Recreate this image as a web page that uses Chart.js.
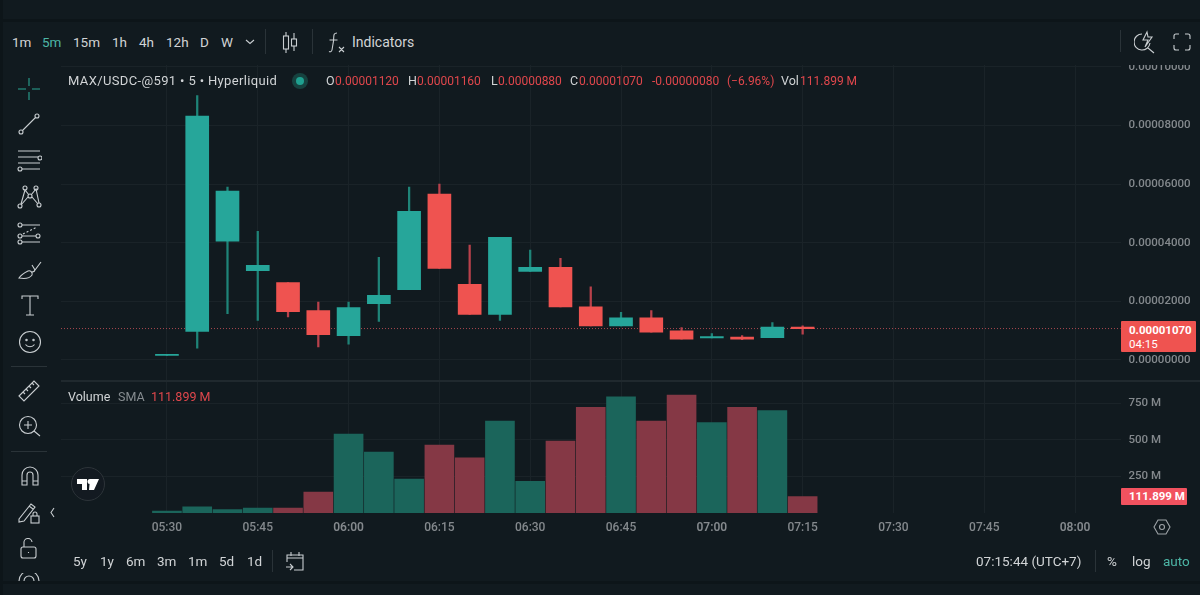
<!DOCTYPE html>
<html>
<head>
<meta charset="utf-8">
<script src="https://cdn.jsdelivr.net/npm/chart.js@4"></script>
<style>
  html, body { margin: 0; padding: 0; background: #111a1f; }
  body { width: 1200px; height: 595px; overflow: hidden; position: relative; font-family: "Roboto", sans-serif; }
  #gapTop { position: absolute; left: 0; top: 19px; width: 1200px; height: 3px; background: #0d1519; }
  #gapLeft { position: absolute; left: 0; top: 0; width: 3px; height: 595px; background: #0d1519; }
  #gapBottom { position: absolute; left: 0; top: 581px; width: 1200px; height: 3px; background: #0d1519; }
  #chartBox { position: absolute; left: 0; top: 0; width: 1200px; height: 595px; }
  #topBar { position: absolute; left: 3px; top: 22px; width: 1197px; height: 43px; background: #111a1f; }
  .t { position: absolute; white-space: nowrap; color: #d1d4d6; font-size: 13.5px; line-height: 16px; }
  .b { top: 34px; }
  .r { top: 73px; color: #e0474c; font-size: 12px; }
  .l { top: 73px; font-size: 12.500px; }
  .f { top: 553px; font-size: 13.5px; }
  .sep { position: absolute; background: #2a3338; }
  .tag { position: absolute; background: #ef5350; color: #fff; border-radius: 1px; font-size: 11.5px; line-height: 14px; white-space: nowrap; }
  svg.i { position: absolute; fill: none; stroke: #c9ced1; stroke-width: 1.1; }
</style>
</head>
<body>
<div id="chartBox"><canvas id="myChart" width="1200" height="595"></canvas></div>
<div id="topBar"></div>
<div id="gapTop"></div>
<div id="gapLeft"></div>
<div id="gapBottom"></div>

<div class="t b" style="left:12px">1m</div>
<div class="t b" style="left:42px;color:#4db6a6">5m</div>
<div class="t b" style="left:73px">15m</div>
<div class="t b" style="left:112px">1h</div>
<div class="t b" style="left:139px">4h</div>
<div class="t b" style="left:166px">12h</div>
<div class="t b" style="left:200px">D</div>
<div class="t b" style="left:221px">W</div>
<svg class="i" style="left:245px;top:38px" width="10" height="8"><path d="M1 2l4 3.5L9 2"/></svg>
<div class="sep" style="left:265px;top:29px;width:1px;height:25px"></div>
<svg class="i" style="left:281px;top:31px" width="18" height="24"><path d="M5 1v4M5 18v4M13 2v6M13 15v5"/><rect x="2.5" y="5" width="5" height="13"/><rect x="10.5" y="8" width="5" height="7"/></svg>
<div class="sep" style="left:312px;top:29px;width:1px;height:25px"></div>
<svg class="i" style="left:327px;top:32px" width="20" height="24"><path d="M10 1C6 1 7 4 6.5 9L5 18c-.4 2-2 2-3 1.5M2.5 8h8M12 15l5 5M17 15l-5 5"/></svg>
<div class="t b" style="left:352px;font-size:14px">Indicators</div>
<div class="sep" style="left:1120px;top:30px;width:1px;height:22px"></div>
<svg class="i" style="left:1134px;top:30px" width="24" height="24"><path d="M8 4a8 8 0 1 0 8 9M14 18l6 5M13 2l-4 8h5l-3 7 7-10h-4z"/></svg>
<svg class="i" style="left:1173px;top:33px" width="18" height="18"><path d="M1 6V3q0-2 2-2h3M12 1h3q2 0 2 2v3M17 12v3q0 2-2 2h-3M6 17H3q-2 0-2-2v-3"/></svg>

<div class="t l" style="left:68px;font-size:13px;letter-spacing:.36px">MAX/USDC-@591 • 5 • Hyperliquid</div>
<svg style="position:absolute;left:291px;top:72px" width="18" height="18"><circle cx="9" cy="9" r="8" fill="#16423f"/><circle cx="9" cy="9" r="4" fill="#1fa08f"/></svg>
<div class="t l" style="left:326px">O</div><div class="t r" style="left:335px">0.00001120</div>
<div class="t l" style="left:408px">H</div><div class="t r" style="left:417px">0.00001160</div>
<div class="t l" style="left:491px">L</div><div class="t r" style="left:498px">0.00000880</div>
<div class="t l" style="left:570px">C</div><div class="t r" style="left:579px">0.00001070</div>
<div class="t r" style="left:652px">-0.00000080</div>
<div class="t r" style="left:727px">(−6.96%)</div>
<div class="t l" style="left:781px">Vol</div><div class="t r" style="left:800px">111.899 M</div>

<div class="t" style="left:68px;top:389px;font-size:12.5px">Volume</div>
<div class="t" style="left:118px;top:389px;font-size:12.5px;color:#868c90">SMA</div>
<div class="t" style="left:151px;top:389px;font-size:12.5px;color:#e0474c">111.899 M</div>

<div class="tag" style="left:1121px;top:321px;width:67px;height:31px;padding-left:8px"><b style="display:block;margin-top:2px">0.00001070</b>04:15</div>
<div class="tag" style="left:1121px;top:488px;width:58px;height:17px;padding-left:8px;line-height:17px;background:#f2525f"><b>111.899 M</b></div>

<!-- left tools -->
<svg class="i" style="left:16px;top:76px;stroke:#2aa593" width="26" height="26"><path d="M13 2v8M13 16v8M2 13h8M16 13h8"/></svg>
<svg class="i" style="left:17px;top:112px" width="24" height="24"><circle cx="4" cy="20" r="2"/><circle cx="20" cy="4" r="2"/><path d="M5.5 18.5l13-13"/></svg>
<svg class="i" style="left:16px;top:150px" width="26" height="22"><path d="M2 1h22M2 7h20M2 13h22M6 19h18"/><circle cx="24" cy="8" r="2"/><circle cx="4" cy="19" r="2"/></svg>
<svg class="i" style="left:17px;top:185px" width="26" height="26"><circle cx="8" cy="3" r="2"/><circle cx="19" cy="3" r="2"/><circle cx="3" cy="21" r="2"/><circle cx="22" cy="20" r="2"/><circle cx="13" cy="11" r="2"/><path d="M4 19L8 5l4 5M14 10l5-6 3 14M4 20l7-8M15 12l6 7"/></svg>
<svg class="i" style="left:16px;top:222px" width="26" height="24"><circle cx="4" cy="3" r="2"/><circle cx="4" cy="14" r="2"/><circle cx="4" cy="20" r="2"/><circle cx="22" cy="14" r="2"/><path d="M6 3h18M6 14h14M6 20h18"/><path stroke-dasharray="2 2" d="M7 12l14-7"/></svg>
<svg class="i" style="left:17px;top:259px" width="26" height="24"><path d="M2 19c6 1 11 0 13-3 1-3-2-5-4-4-4 2-7 4-9 7zM15 13c2 0 3-1 3-3M15 6l3 5 6-8"/></svg>
<svg class="i" style="left:20px;top:295px" width="20" height="22"><path d="M2 4V1h16v3M10 1v19M6 20h8"/></svg>
<svg class="i" style="left:18px;top:330px" width="24" height="24"><circle cx="12" cy="12" r="10.5"/><circle cx="8.5" cy="10" r=".7"/><circle cx="15.5" cy="10" r=".7"/><path d="M7.5 14.5c2 3 7 3 9 0"/></svg>
<div class="sep" style="left:11px;top:366px;width:36px;height:1px"></div>
<svg class="i" style="left:17px;top:379px" width="24" height="24"><path d="M2 17L17 2l5 5L7 22zM6 13l2 2M9 10l2 2M12 7l2 2M15 4l2 2"/></svg>
<svg class="i" style="left:18px;top:415px" width="24" height="24"><circle cx="10" cy="10" r="8.5"/><path d="M6 10h8M10 6v8M16 16l6 5"/></svg>
<div class="sep" style="left:11px;top:451px;width:36px;height:1px"></div>
<svg class="i" style="left:20px;top:465px" width="20" height="22"><path d="M2 20V10a8 8 0 0 1 16 0v10h-5V10a3 3 0 0 0-6 0v10zM2 16h5M13 16h5"/></svg>
<svg class="i" style="left:17px;top:501px" width="24" height="24"><path d="M2 18L14 3l4 3L7 20l-5 1zM12 5l4 3"/><rect x="14" y="15" width="8" height="7"/><path d="M16 15v-2a2 2 0 0 1 4 0v2"/></svg>
<svg class="i" style="left:49px;top:507px" width="7" height="11"><path d="M5 1L2 5.5 5 10"/></svg>
<svg class="i" style="left:20px;top:538px" width="18" height="22"><rect x="1" y="9" width="15" height="11" rx="2"/><path d="M4 9V5a4 4 0 0 1 8-1M8.500 14v1"/></svg>
<svg class="i" style="left:17px;top:573px" width="24" height="8"><path d="M2 8a10 10 0 0 1 20 0M7 8a5 5 0 0 1 10 0"/></svg>
<svg style="position:absolute;left:70px;top:466px" width="36" height="36"><circle cx="18" cy="18" r="16.500" fill="#131a21" stroke="#2d3439"/><path fill="#fff" d="M7 13h10v11h-5v-6H7zM20 13h9l-5 11h-5z"/><circle cx="20" cy="15.500" r="2.500" fill="#fff"/></svg>
<div class="t f" style="left:73px">5y</div>
<div class="t f" style="left:100px">1y</div>
<div class="t f" style="left:126px">6m</div>
<div class="t f" style="left:157px">3m</div>
<div class="t f" style="left:188px">1m</div>
<div class="t f" style="left:219px">5d</div>
<div class="t f" style="left:247px">1d</div>
<div class="sep" style="left:272px;top:550px;width:1px;height:22px"></div>
<svg class="i" style="left:285px;top:550px" width="20" height="22"><path d="M2 12V5h16v15H9M2 8h16M6 2v4M14 2v4M1 17h7M5 14l3 3-3 3"/></svg>
<div class="t f" style="left:976px">07:15:44 (UTC+7)</div>
<div class="sep" style="left:1095px;top:550px;width:1px;height:22px"></div>
<div class="t f" style="left:1107px">%</div>
<div class="t f" style="left:1132px">log</div>
<div class="t f" style="left:1163px;color:#4db6a6">auto</div>
<svg class="i" style="left:1153px;top:518px;stroke:#9ea3a7" width="18" height="18"><path d="M5 2h8l4 7-4 7H5L1 9z"/><circle cx="9" cy="9" r="2.500"/></svg>

<script>
// axis slots, one per 5 minute bar
const slotLabels = ['05:15','05:20','05:25','05:30','05:35','05:40','05:45','05:50','05:55','06:00','06:05','06:10','06:15','06:20','06:25','06:30','06:35','06:40','06:45','06:50','06:55','07:00','07:05','07:10','07:15','07:20','07:25','07:30','07:35','07:40','07:45','07:50','07:55','08:00','08:05']
const shownLabels = ['05:30','05:45','06:00','06:15','06:30','06:45','07:00','07:15','07:30','07:45','08:00']
const priceTicks = [0, 0.00002, 0.00004, 0.00006, 0.00008, 0.0001]
const volumeTicks = [250e6, 500e6, 750e6]

const times = ['05:30','05:35','05:40','05:45','05:50','05:55','06:00','06:05','06:10','06:15','06:20','06:25','06:30','06:35','06:40','06:45','06:50','06:55','07:00','07:05','07:10','07:15']
// prices in millionths of a USDC
const opens  = [1.5, 9.7, 40.5, 30.5, 26.4, 16.8, 8.3, 19.2, 24, 56.6, 25.8, 15.5, 30.2, 31.6, 18.1, 11.6, 14.4, 9.9, 7.5, 7.8, 7.6, 11.2]
const highs  = [1.9, 90.2, 59, 43.9, 26.4, 19.7, 19.7, 35, 59, 60, 39.2, 41.8, 37.5, 34.7, 24.9, 16.2, 16.8, 11, 9, 8.3, 12.7, 11.6]
const lows   = [1.5, 4, 15.8, 13.5, 14.7, 4.4, 5.4, 13.1, 24, 31.2, 15.5, 13.5, 30.2, 18.1, 11.6, 11.6, 9.5, 7.1, 7.5, 6.9, 7.6, 8.8]
const closes = [1.9, 83.2, 57.6, 32.3, 16.5, 8.6, 17.9, 22, 50.7, 31.2, 15.5, 41.8, 31.6, 18.1, 11.6, 14.4, 9.5, 7.1, 8, 7.1, 11.2, 10.7]
const volumes = [14e6, 43e6, 23e6, 34e6, 34e6, 144e6, 541e6, 418e6, 233e6, 466e6, 377e6, 630e6, 217e6, 493e6, 724e6, 795e6, 630e6, 808e6, 619e6, 724e6, 701e6, 111.899e6]
const lastPrice = 0.0000107

const upColor = '#26a69a'
const downColor = '#ef5350'
const upWick = '#1f8478'
const downWick = '#b8414b'
const upVolume = '#1b655b'
const downVolume = '#853845'
const gridColor = '#1a2328'
const tickColor = '#84898d'
const fontName = 'Roboto'

const isUp = times.map((t, i) => closes[i] >= opens[i])
const price = v => v / 1e6

// dotted line at the last price
const lastPriceLine = {
    id: 'lastPriceLine',
    beforeDatasetsDraw(chart) {
        const { ctx, chartArea, scales } = chart
        const y = scales.y.getPixelForValue(lastPrice)
        ctx.save()
        ctx.strokeStyle = '#a8484f'
        ctx.lineWidth = 1
        ctx.setLineDash([1, 2])
        ctx.beginPath()
        ctx.moveTo(chartArea.left, y)
        ctx.lineTo(chartArea.right, y)
        ctx.stroke()
        // line between the two panes
        const paneY = scales.y.bottom
        ctx.setLineDash([])
        ctx.strokeStyle = '#20292e'
        ctx.lineWidth = 2
        ctx.beginPath()
        ctx.moveTo(chartArea.left, paneY)
        ctx.lineTo(1200, paneY)
        ctx.stroke()
        ctx.restore()
    }
}

const ctx = document.getElementById('myChart')
new Chart(ctx, {
    data: {
        labels: slotLabels,
        datasets: [
            {
                type: 'bar',
                label: 'wick',
                yAxisID: 'y',
                grouped: false,
                order: 3,
                barThickness: 1.6,
                data: times.map((t, i) => ({ x: t, y: [price(lows[i]), price(highs[i])] })),
                backgroundColor: isUp.map(u => u ? upWick : downWick)
            },
            {
                type: 'bar',
                label: 'body',
                yAxisID: 'y',
                grouped: false,
                order: 2,
                barThickness: 23,
                data: times.map((t, i) => ({ x: t, y: [price(opens[i]), price(closes[i])] })),
                backgroundColor: isUp.map(u => u ? upColor : downColor)
            },
            {
                type: 'bar',
                label: 'Volume',
                yAxisID: 'yVol',
                grouped: false,
                order: 1,
                barThickness: 29,
                data: times.map((t, i) => ({ x: t, y: volumes[i] })),
                backgroundColor: isUp.map(u => u ? upVolume : downVolume)
            }
        ]
    },
    options: {
        responsive: false,
        animation: false,
        devicePixelRatio: 1,
        layout: { padding: { left: 61, top: 64, right: 0, bottom: 0 } },
        plugins: { legend: { display: false }, tooltip: { enabled: false } },
        scales: {
            x: {
                type: 'category',
                offset: true,
                grid: {
                    offset: false,
                    drawTicks: false,
                    color: c => shownLabels.includes(slotLabels[c.index]) ? gridColor : 'transparent'
                },
                border: { display: false },
                afterFit: axis => { axis.height = 82 },
                ticks: {
                    autoSkip: false,
                    maxRotation: 0,
                    padding: 8,
                    color: tickColor,
                    font: c => ({ family: fontName, size: 12, weight: String(c.tick && c.tick.label).endsWith(':00') ? '600' : '500' }),
                    callback(value) {
                        const label = this.getLabelForValue(value)
                        return shownLabels.includes(label) ? label : ''
                    }
                }
            },
            y: {
                position: 'right',
                stack: 'panes',
                stackWeight: 317,
                min: -0.0000072,
                max: 0.000101,
                afterBuildTicks: axis => { axis.ticks = priceTicks.map(v => ({ value: v })) },
                afterFit: axis => { axis.width = 79.5 },
                grid: { color: gridColor, drawTicks: false },
                border: { display: false },
                ticks: {
                    padding: 8,
                    color: tickColor,
                    font: { family: fontName, size: 11.5, weight: '500' },
                    callback: v => v.toFixed(8)
                }
            },
            yVol: {
                position: 'right',
                stack: 'panes',
                stackWeight: 132,
                min: 0,
                max: 904e6,
                afterBuildTicks: axis => { axis.ticks = volumeTicks.map(v => ({ value: v })) },
                afterFit: axis => { axis.width = 79.5 },
                grid: { color: gridColor, drawTicks: false },
                border: { display: false },
                ticks: {
                    padding: 8,
                    color: tickColor,
                    font: { family: fontName, size: 11.5, weight: '500' },
                    callback: v => (v / 1e6) + ' M'
                }
            }
        }
    },
    plugins: [lastPriceLine]
})
</script>
</body>
</html>
